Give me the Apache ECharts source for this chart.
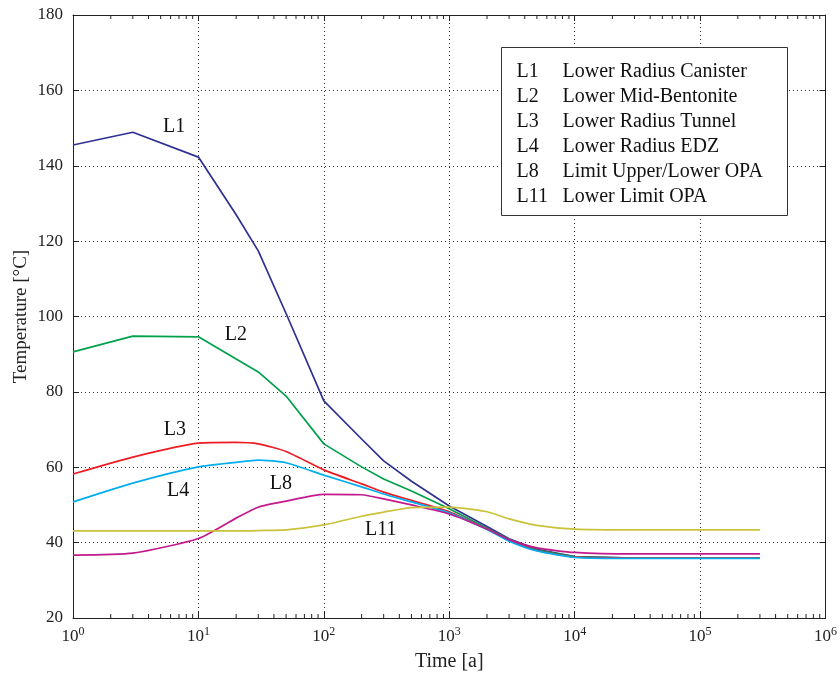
<!doctype html>
<html>
<head>
    <meta charset="UTF-8">
    <title>Temperature</title>
    <script src="https://cdn.jsdelivr.net/npm/echarts@6/dist/echarts.min.js"></script>
    <style>
        html, body { margin: 0; padding: 0; background: #fff; }
        #main { width: 840px; height: 680px; }
    </style>
</head>
<body>
<div id="main"></div>
<script>
    // time points [a]
    var times = [1, 3, 10, 20, 30, 50, 100, 200, 300, 500, 1000, 2000, 3000, 5000, 10000, 30000, 100000, 300000];

    // temperatures [°C]
    var L1 = [145.5, 148.9, 142.3, 127.0, 117.4, 100.8, 77.6, 67.5, 61.7, 56.3, 49.7, 44.3, 41.0, 38.2, 36.3, 35.9, 35.9, 35.9];
    var L2 = [90.6, 94.8, 94.6, 88.7, 85.3, 78.9, 66.2, 60.1, 56.9, 53.7, 49.0, 43.8, 40.8, 38.0, 36.2, 35.9, 35.9, 35.9];
    var L3 = [58.2, 62.7, 66.4, 66.6, 66.2, 64.2, 59.3, 55.6, 53.4, 51.2, 48.2, 43.6, 40.6, 37.9, 36.2, 35.9, 35.9, 35.9];
    var L4 = [50.8, 55.8, 60.1, 61.3, 61.9, 61.2, 57.9, 54.8, 52.9, 50.8, 47.9, 43.5, 40.4, 37.8, 36.1, 35.8, 35.8, 35.8];
    var L8 = [36.7, 37.2, 41.1, 46.5, 49.4, 51.0, 52.8, 52.7, 51.6, 50.0, 47.6, 43.6, 40.8, 38.6, 37.4, 37.0, 37.0, 37.0];
    var L11 = [43.1, 43.1, 43.1, 43.1, 43.2, 43.4, 44.7, 47.0, 48.1, 49.3, 49.4, 48.2, 46.3, 44.6, 43.6, 43.4, 43.4, 43.4];

    var codes = ['L1', 'L2', 'L3', 'L4', 'L8', 'L11'];
    var names = ['Lower Radius Canister', 'Lower Mid-Bentonite', 'Lower Radius Tunnel',
        'Lower Radius EDZ', 'Limit Upper/Lower OPA', 'Lower Limit OPA'];
    var values = [L1, L2, L3, L4, L8, L11];
    var colors = ['#2e3192', '#00a14b', '#ed1c24', '#00aeef', '#c4198c', '#c9c23a'];
    var smooth = [false, false, 0.2, 0.2, 0.2, 0.2];

    // where the curve labels sit, in data coordinates [time, temperature]
    var labelAt = [[6.4, 150.3], [19.9, 95.1], [6.5, 69.9], [6.9, 53.7], [45.4, 55.6], [284, 43.3]];

    var font = 'Liberation Serif';
    var ink = '#222';

    // minor ticks of the log axis: 2..9 in each decade
    var minorTicks = [];
    for (var d = 1; d < 1e6; d *= 10) {
        for (var k = 2; k <= 9; k++) minorTicks.push([k * d]);
    }

    var series = values.map(function (vals, i) {
        return {
            name: codes[i],
            type: 'line',
            data: times.map(function (t, j) { return [t, vals[j]]; }),
            showSymbol: false,
            smooth: smooth[i],
            lineStyle: { color: colors[i], width: 1.7 },
            itemStyle: { color: colors[i] },
            silent: true,
            markPoint: {
                symbol: 'circle',
                symbolSize: 0,
                silent: true,
                data: [{
                    coord: labelAt[i],
                    label: {
                        show: true,
                        formatter: codes[i],
                        position: 'inside',
                        color: '#111',
                        fontFamily: font,
                        fontSize: 20
                    }
                }]
            }
        };
    });

    series.push({
        type: 'custom',
        silent: true,
        z: 5,
        data: minorTicks,
        renderItem: function (params, api) {
            var b = api.coord([api.value(0), 20]);
            var t = api.coord([api.value(0), 180]);
            var st = { stroke: ink, lineWidth: 1 };
            return {
                type: 'group',
                children: [
                    { type: 'line', shape: { x1: b[0], y1: b[1], x2: b[0], y2: b[1] - 4 }, style: st },
                    { type: 'line', shape: { x1: t[0], y1: t[1], x2: t[0], y2: t[1] + 4 }, style: st }
                ]
            };
        }
    });

    // legend box
    var legendChildren = [{
        type: 'rect',
        z: 100,
        shape: { x: 0, y: 0, width: 286, height: 168 },
        style: { fill: '#fff', stroke: '#333', lineWidth: 1 }
    }];
    codes.forEach(function (c, i) {
        var y = 24 + i * 25;
        legendChildren.push({
            type: 'text', x: 15, y: y, z: 101,
            style: { text: c, fill: '#111', font: '20px "' + font + '"', verticalAlign: 'middle' }
        });
        legendChildren.push({
            type: 'text', x: 61, y: y, z: 101,
            style: { text: names[i], fill: '#111', font: '20px "' + font + '"', verticalAlign: 'middle' }
        });
    });

    var myChart = echarts.init(document.getElementById('main'));
    var option = {
        animation: false,
        grid: { left: 73, right: 14, top: 15, bottom: 62 },
        xAxis: [{
            type: 'log',
            logBase: 10,
            min: 1,
            max: 1e6,
            splitNumber: 6,
            name: 'Time [a]',
            nameLocation: 'middle',
            nameGap: 34,
            nameTextStyle: { fontFamily: font, fontSize: 20, color: ink },
            axisLine: { lineStyle: { color: ink, width: 1 } },
            axisTick: { inside: true, length: 6, lineStyle: { color: ink } },
            splitLine: { show: true, lineStyle: { color: '#333', type: [1, 3] } },
            axisLabel: {
                margin: 8,
                formatter: function (v) {
                    return '{b|10}{s|' + Math.round(Math.log10(v)) + '}';
                },
                rich: {
                    b: { fontFamily: font, fontSize: 17, color: ink },
                    s: { fontFamily: font, fontSize: 12, color: ink, padding: [0, 0, 10, 0] }
                }
            }
        }, {
            type: 'log',
            logBase: 10,
            min: 1,
            max: 1e6,
            splitNumber: 6,
            position: 'top',
            axisLine: { lineStyle: { color: ink, width: 1 } },
            axisTick: { inside: true, length: 6, lineStyle: { color: ink } },
            axisLabel: { show: false },
            splitLine: { show: false }
        }],
        yAxis: [{
            type: 'value',
            min: 20,
            max: 180,
            interval: 20,
            name: 'Temperature [°C]',
            nameLocation: 'middle',
            nameGap: 42,
            nameMoveOverlap: false,
            nameTextStyle: { fontFamily: font, fontSize: 19, color: ink },
            axisLine: { show: true, lineStyle: { color: ink, width: 1 } },
            axisTick: { show: true, inside: true, length: 6, lineStyle: { color: ink } },
            splitLine: { show: true, lineStyle: { color: '#333', type: [1, 3] } },
            axisLabel: { fontFamily: font, fontSize: 17, color: ink, margin: 10 }
        }, {
            type: 'value',
            min: 20,
            max: 180,
            interval: 20,
            position: 'right',
            axisLine: { show: true, lineStyle: { color: ink, width: 1 } },
            axisTick: { show: true, inside: true, length: 6, lineStyle: { color: ink } },
            axisLabel: { show: false },
            splitLine: { show: false }
        }],
        graphic: [{
            type: 'group',
            left: 501,
            top: 47,
            z: 100,
            children: legendChildren
        }],
        series: series
    };
    myChart.setOption(option);
</script>
</body>
</html>
